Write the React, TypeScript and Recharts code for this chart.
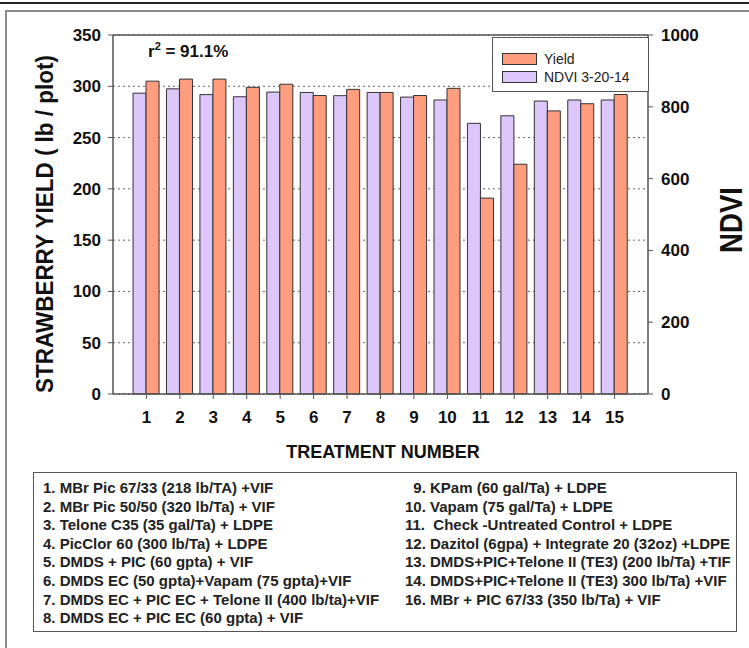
import {
  BarChart, Bar, XAxis, YAxis, CartesianGrid, Legend, ReferenceLine,
} from 'recharts'

// ─── Data ─────────────────────────────────────────────────────────────────────

const treatments = ['1', '2', '3', '4', '5', '6', '7', '8', '9', '10', '11', '12', '13', '14', '15']
const yieldValues = [305, 307, 307, 299, 302, 291, 297, 294, 291, 298, 191, 224, 276, 283, 292]
const ndviValues = [838, 850, 834, 828, 841, 840, 831, 840, 827, 819, 754, 775, 816, 819, 819]

const yieldTicks = [0, 50, 100, 150, 200, 250, 300, 350]
const ndviTicks = [0, 200, 400, 600, 800, 1000]

const leftTreatments = [
  '1. MBr Pic 67/33 (218 lb/TA) +VIF',
  '2. MBr Pic 50/50 (320 lb/Ta) + VIF',
  '3. Telone C35 (35 gal/Ta) + LDPE',
  '4. PicClor 60 (300 lb/Ta) + LDPE',
  '5. DMDS + PIC (60 gpta) + VIF',
  '6. DMDS EC (50 gpta)+Vapam (75 gpta)+VIF',
  '7. DMDS EC + PIC EC + Telone II (400 lb/ta)+VIF',
  '8. DMDS EC + PIC EC (60 gpta) + VIF',
]
const rightTreatments = [
  '  9. KPam (60 gal/Ta) + LDPE',
  '10. Vapam (75 gal/Ta) + LDPE',
  '11.  Check -Untreated Control + LDPE',
  '12. Dazitol (6gpa) + Integrate 20 (32oz) +LDPE',
  '13. DMDS+PIC+Telone II (TE3) (200 lb/Ta) +TIF',
  '14. DMDS+PIC+Telone II (TE3) 300 lb/Ta) +VIF',
  '16. MBr + PIC 67/33 (350 lb/Ta) + VIF',
]

const data = treatments.map((t, i) => ({ treatment: t, yield: yieldValues[i], ndvi: ndviValues[i] }))

// ─── Constants ────────────────────────────────────────────────────────────────

const FONT = "Arial, 'Liberation Sans', sans-serif"
const NARROW = "'Liberation Sans Narrow', 'Arial Narrow', Arial, sans-serif"
const YIELD_COLOR = '#FF9E7E'
const NDVI_COLOR = '#DDC6FA'
const EDGE = '#333'
const AXIS = '#555'

const tickStyle = { fontFamily: FONT, fontSize: 17, fontWeight: 700, fill: '#111' }
const titleStyle = { fontFamily: FONT, fontWeight: 700, fill: '#111' }

// ─── Legend ───────────────────────────────────────────────────────────────────

function ChartLegend() {
  const items = [
    { label: 'Yield', color: YIELD_COLOR },
    { label: 'NDVI 3-20-14', color: NDVI_COLOR },
  ]
  return (
    <div
      style={{
        width: 157, height: 55, border: `1.5px solid ${AXIS}`, background: '#fff',
        boxSizing: 'border-box', padding: '12px 0 0 9px', fontFamily: FONT, fontSize: 14, color: '#222',
      }}
    >
      {items.map((item) => (
        <div key={item.label} style={{ display: 'flex', alignItems: 'center', height: 18 }}>
          <div style={{ width: 33, height: 10, background: item.color, border: `1px solid ${EDGE}`, marginRight: 7 }} />
          <span>{item.label}</span>
        </div>
      ))}
    </div>
  )
}

// ─── Component ────────────────────────────────────────────────────────────────

export default function App() {
  return (
    <div style={{ position: 'absolute', top: 0, left: 0, width: 749, height: 648, overflow: 'hidden', background: '#fff' }}>
      {/* page frame */}
      <div style={{ position: 'absolute', top: 2, left: 0, width: 749, height: 2, background: '#222' }} />
      <div style={{ position: 'absolute', top: 10, left: 5, width: 800, height: 700, border: '2px solid #8a8a8a' }} />

      <div style={{ position: 'absolute', top: 0, left: 0 }}>
        <BarChart
          width={749}
          height={470}
          data={data}
          margin={{ top: 35, right: 0, left: 0, bottom: 50 }}
          barCategoryGap="10%"
          barGap={0}
        >
          <CartesianGrid vertical={false} stroke="#666" strokeDasharray="2 3" />
          <ReferenceLine y={350} stroke={AXIS} strokeWidth={1.5} />
          <XAxis
            dataKey="treatment"
            height={26}
            padding={{ left: 16.7, right: 16.7 }}
            tick={tickStyle}
            tickSize={5}
            tickMargin={12}
            axisLine={{ stroke: AXIS, strokeWidth: 1.5 }}
            tickLine={{ stroke: AXIS }}
            interval={0}
          />
          <YAxis
            width={113}
            domain={[0, 350]}
            ticks={yieldTicks}
            tick={tickStyle}
            tickSize={5}
            tickMargin={7}
            axisLine={{ stroke: AXIS, strokeWidth: 1.5 }}
            tickLine={{ stroke: AXIS }}
          />
          <YAxis
            yAxisId="right"
            orientation="right"
            width={101}
            domain={[0, 1000]}
            ticks={ndviTicks}
            tick={{ ...tickStyle, textAnchor: 'start' }}
            tickSize={5}
            tickMargin={8}
            axisLine={{ stroke: AXIS, strokeWidth: 1.5 }}
            tickLine={{ stroke: AXIS }}
          />
          <Legend
            layout="horizontal"
            verticalAlign="middle"
            align="center"
            content={<ChartLegend />}
            wrapperStyle={{ top: 37, left: 492, width: 157, height: 55 }}
          />
          <Bar
            yAxisId="right"
            dataKey="ndvi"
            name="NDVI 3-20-14"
            fill={NDVI_COLOR}
            stroke={EDGE}
            strokeWidth={1}
            isAnimationActive={false}
          />
          <Bar
            dataKey="yield"
            name="Yield"
            fill={YIELD_COLOR}
            stroke={EDGE}
            strokeWidth={1}
            isAnimationActive={false}
          />
        </BarChart>
      </div>

      {/* axis titles (baseline on the right of the rotated glyphs) */}
      <svg width={749} height={470} style={{ position: 'absolute', top: 0, left: 0, pointerEvents: 'none' }}>
        <g transform="translate(53 224) rotate(-90)">
          <text
            x={0}
            y={0}
            textAnchor="middle"
            textLength={338}
            lengthAdjust="spacingAndGlyphs"
            style={{ ...titleStyle, fontSize: 24 }}
          >
            STRAWBERRY YIELD ( lb / plot)
          </text>
        </g>
        <g transform="translate(742 220) rotate(-90)">
          <text
            x={0}
            y={0}
            textAnchor="middle"
            textLength={66}
            lengthAdjust="spacingAndGlyphs"
            style={{ ...titleStyle, fontSize: 31 }}
          >
            NDVI
          </text>
        </g>
        <text x={383} y={458} textAnchor="middle" style={{ ...titleStyle, fontSize: 18 }}>
          TREATMENT NUMBER
        </text>
      </svg>

      {/* r² annotation */}
      <div
        style={{
          position: 'absolute', top: 42, left: 148, fontFamily: FONT, fontSize: 17,
          fontWeight: 700, color: '#111', whiteSpace: 'pre',
        }}
      >
        r<sup style={{ fontSize: 11, verticalAlign: 'top', position: 'relative', top: -2 }}>2</sup> = 91.1%
      </div>

      {/* treatment key */}
      <div
        style={{
          position: 'absolute', top: 472, left: 33, width: 704, height: 160, boxSizing: 'border-box',
          border: `1.5px solid ${AXIS}`, background: '#fff', fontFamily: NARROW, fontSize: 15,
          fontWeight: 700, color: '#222',
        }}
      >
        <div style={{ position: 'absolute', top: 6, left: 9, lineHeight: '18.6px', whiteSpace: 'pre' }}>
          {leftTreatments.map((t) => <div key={t}>{t}</div>)}
        </div>
        <div style={{ position: 'absolute', top: 6, left: 371, lineHeight: '18.6px', whiteSpace: 'pre' }}>
          {rightTreatments.map((t) => <div key={t}>{t}</div>)}
        </div>
      </div>
    </div>
  )
}
